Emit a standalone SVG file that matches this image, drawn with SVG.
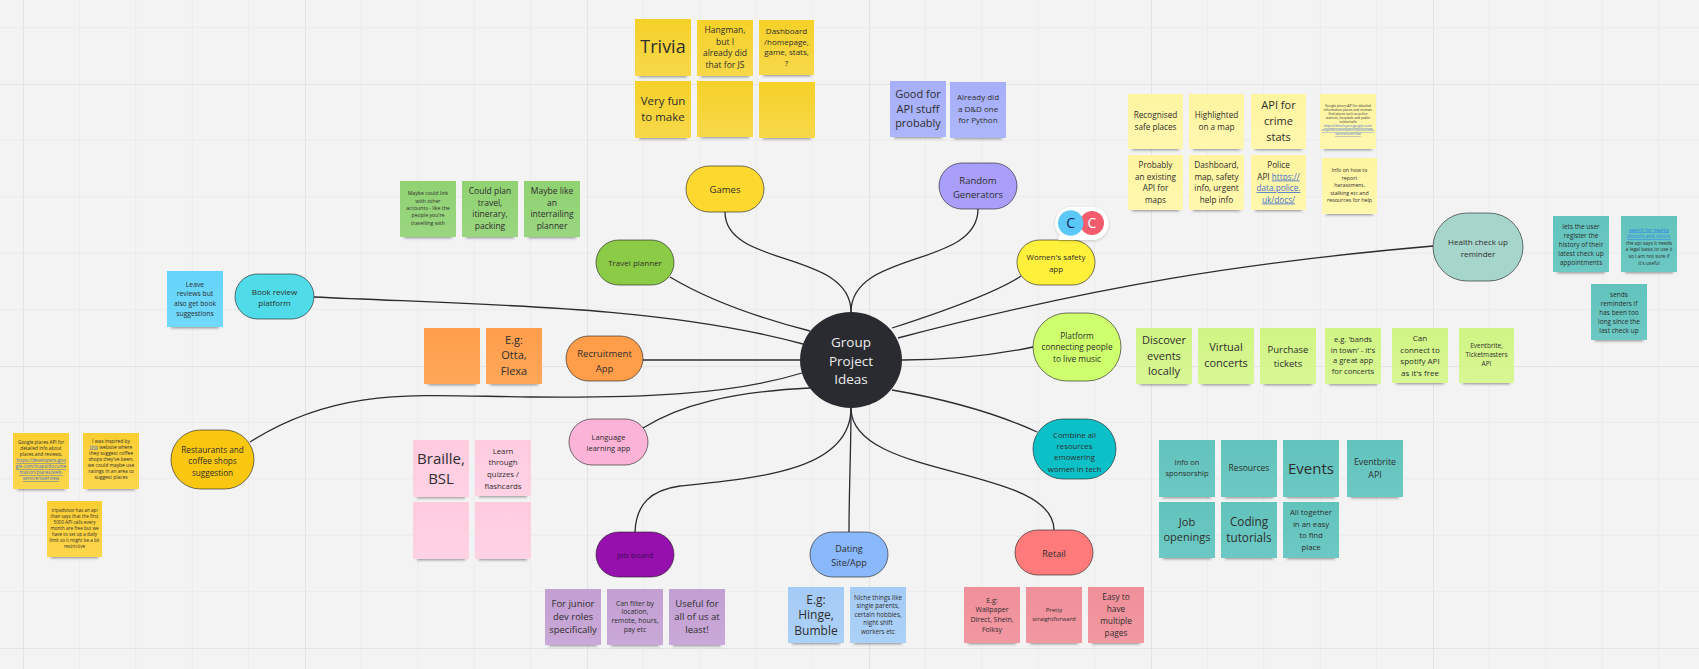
<svg xmlns="http://www.w3.org/2000/svg" width="1699" height="669" viewBox="0 0 1699 669">
<style>
text{font-family:"Open Sans","Noto Sans","Liberation Sans",sans-serif;text-anchor:middle;fill:#2e2e2e}
.conn path{fill:none;stroke:#2b2b30;stroke-width:1.3}
.n{stroke:#1c1c1c;stroke-opacity:.6;stroke-width:1}
.sh{fill:#222;opacity:.5;filter:url(#blur)}
.link{fill:#3f6fd0;text-decoration:underline}
.yel{fill:url(#gyel)}.per{fill:url(#gper)}.pal{fill:url(#gpal)}.tel{fill:url(#gtel)}.grn{fill:url(#ggrn)}.org{fill:url(#gorg)}.sky{fill:url(#gsky)}.amb{fill:url(#gamb)}.pnk{fill:url(#gpnk)}.lim{fill:url(#glim)}.vio{fill:url(#gvio)}.blu{fill:url(#gblu)}.red{fill:url(#gred)}
</style>
<defs>
<filter id="blur" x="-20%" y="-200%" width="140%" height="500%"><feGaussianBlur stdDeviation="1.500"/></filter>
<filter id="bub" x="-20%" y="-20%" width="140%" height="150%"><feDropShadow dx="0" dy="1" stdDeviation="1.500" flood-color="#000" flood-opacity=".18"/></filter>
<linearGradient id="gyel" x2="0" y2="1"><stop offset="0" stop-color="#f5d128"/><stop offset="1" stop-color="#f7d84a"/></linearGradient>
<linearGradient id="gper" x2="0" y2="1"><stop offset="0" stop-color="#a6aff8"/><stop offset="1" stop-color="#acb6fb"/></linearGradient>
<linearGradient id="gpal" x2="0" y2="1"><stop offset="0" stop-color="#fef5a0"/><stop offset="1" stop-color="#fff7ae"/></linearGradient>
<linearGradient id="gtel" x2="0" y2="1"><stop offset="0" stop-color="#62c3bd"/><stop offset="1" stop-color="#6cc8c2"/></linearGradient>
<linearGradient id="ggrn" x2="0" y2="1"><stop offset="0" stop-color="#90d272"/><stop offset="1" stop-color="#9ad680"/></linearGradient>
<linearGradient id="gorg" x2="0" y2="1"><stop offset="0" stop-color="#ff9e4b"/><stop offset="1" stop-color="#ffa658"/></linearGradient>
<linearGradient id="gsky" x2="0" y2="1"><stop offset="0" stop-color="#64d4fa"/><stop offset="1" stop-color="#70d9fb"/></linearGradient>
<linearGradient id="gamb" x2="0" y2="1"><stop offset="0" stop-color="#fbce32"/><stop offset="1" stop-color="#fcd64c"/></linearGradient>
<linearGradient id="gpnk" x2="0" y2="1"><stop offset="0" stop-color="#ffcbdf"/><stop offset="1" stop-color="#ffd2e4"/></linearGradient>
<linearGradient id="glim" x2="0" y2="1"><stop offset="0" stop-color="#d0f583"/><stop offset="1" stop-color="#d8f795"/></linearGradient>
<linearGradient id="gvio" x2="0" y2="1"><stop offset="0" stop-color="#c39fd2"/><stop offset="1" stop-color="#c9a9d8"/></linearGradient>
<linearGradient id="gblu" x2="0" y2="1"><stop offset="0" stop-color="#a4cbf5"/><stop offset="1" stop-color="#acd1f8"/></linearGradient>
<linearGradient id="gred" x2="0" y2="1"><stop offset="0" stop-color="#ef8f99"/><stop offset="1" stop-color="#f298a2"/></linearGradient>
<pattern id="grid" patternUnits="userSpaceOnUse" x="23" y="84" width="282" height="282">
<path d="M56.400 0V282M112.800 0V282M169.200 0V282M225.600 0V282M0 56.400H282M0 112.800H282M0 169.200H282M0 225.600H282" stroke="#ebebeb" stroke-width="1" fill="none"/>
<path d="M.5 0V282M0 .5H282" stroke="#e3e3e3" stroke-width="1.200" fill="none"/>
</pattern>
</defs>
<rect width="1699" height="669" fill="#f3f3f3"/>
<rect width="1699" height="669" fill="url(#grid)"/>

<g id="connectors" class="conn">
<path d="M725 212C725 268 851 250 851 312"/>
<path d="M978 209C978 268 851 250 851 312"/>
<path d="M670 277C700 295 740 313 810 331"/>
<path d="M314 297C480 305 660 305 803 344"/>
<path d="M643 360H800"/>
<path d="M250 442C340 385 420 396 530 397C640 398 730 395 802 373"/>
<path d="M643 428C680 405 730 392 810 388"/>
<path d="M1021 276C1000 290 960 306 892 328"/>
<path d="M1433 246C1250 262 1100 285 898 338"/>
<path d="M1033 347C990 356 950 360 902 360"/>
<path d="M892 390C950 400 1000 415 1037 432"/>
<path d="M1054 530C1054 465 851 480 851 408"/>
<path d="M849 532C849 490 851 450 851 408"/>
<path d="M635 532C636 505 650 490 680 486C760 478 851 470 851 408"/>
</g>

<g id="center"><ellipse cx="851" cy="360" rx="51" ry="48" fill="#2a2b30"/>
<text font-size="13.500" y="347" style="fill:#ececec"><tspan x="851">Group</tspan><tspan x="851" dy="18.500">Project</tspan><tspan x="851" dy="18.500">Ideas</tspan></text></g>

<g id="node-games"><rect class="n" x="686" y="166" width="78" height="46" rx="23" fill="#fdd82f"/><text font-size="9.500" x="725" y="192.500">Games</text></g>
<g id="node-random"><rect class="n" x="939" y="163" width="78" height="46" rx="23" fill="#a99ffa"/><text font-size="9.500" y="183.500"><tspan x="978">Random</tspan><tspan x="978" dy="14">Generators</tspan></text></g>
<g id="node-travel"><rect class="n" x="596" y="240" width="78" height="45" rx="22.500" fill="#8ccb45"/><text font-size="8" x="635" y="265.500">Travel planner</text></g>
<g id="node-recruitment"><rect class="n" x="566" y="336" width="77" height="45" rx="22.500" fill="#ff9d48"/><text font-size="9.500" y="356.500"><tspan x="604.500">Recruitment</tspan><tspan x="604.500" dy="15">App</tspan></text></g>
<g id="node-book"><rect class="n" x="235" y="274" width="79" height="45" rx="22.500" fill="#4fdce8"/><text font-size="8" y="295"><tspan x="274.500">Book review</tspan><tspan x="274.500" dy="11.300">platform</tspan></text></g>
<g id="node-women"><rect class="n" x="1017" y="240" width="78" height="45" rx="22.500" fill="#fff03c"/><text font-size="8" y="260"><tspan x="1056">Women's safety</tspan><tspan x="1056" dy="11.500">app</tspan></text></g>
<g id="node-health"><rect class="n" x="1433" y="213" width="90" height="68" rx="34" fill="#a6d5cc"/><text font-size="8" y="245"><tspan x="1478">Health check up</tspan><tspan x="1478" dy="11.500">reminder</tspan></text></g>
<g id="node-platform"><rect class="n" x="1033" y="313" width="88" height="68" rx="34" fill="#ceff6c"/><text font-size="8.300" y="339"><tspan x="1077">Platform</tspan><tspan x="1077" dy="11.300">connecting people</tspan><tspan x="1077" dy="11.300">to live music</tspan></text></g>
<g id="node-combine"><rect class="n" x="1033" y="419" width="83" height="60" rx="30" fill="#0cc0c8"/><text font-size="7.800" y="437.600"><tspan x="1074.500">Combine all</tspan><tspan x="1074.500" dy="11.300">resources</tspan><tspan x="1074.500" dy="11.300">emowering</tspan><tspan x="1074.500" dy="11.300">women in tech</tspan></text></g>
<g id="node-language"><rect class="n" x="569" y="419" width="79" height="46" rx="23" fill="#fbb4d8"/><text font-size="7.500" y="440"><tspan x="608.500">Language</tspan><tspan x="608.500" dy="11">learning app</tspan></text></g>
<g id="node-restaurants"><rect class="n" x="171" y="430" width="83" height="59" rx="29.500" fill="#fac710"/><text font-size="8.200" y="452.500"><tspan x="212.500">Restaurants and</tspan><tspan x="212.500" dy="11.500">coffee shops</tspan><tspan x="212.500" dy="11.500">suggestion</tspan></text></g>
<g id="node-job"><rect class="n" x="596" y="532" width="78" height="45" rx="22.500" fill="#9510ac"/><text font-size="8" x="635" y="558" style="fill:#3c0a55">Job board</text></g>
<g id="node-dating"><rect class="n" x="810" y="532" width="78" height="45" rx="22.500" fill="#8ab8fd"/><text font-size="9" y="552"><tspan x="849">Dating</tspan><tspan x="849" dy="14">Site/App</tspan></text></g>
<g id="node-retail"><rect class="n" x="1015" y="530" width="78" height="45" rx="22.500" fill="#ff7b7b"/><text font-size="9" x="1054" y="557">Retail</text></g>

<g id="avatars"><path d="M1070 207h22a16.500 16.500 0 0 1 0 33h-34l2-5a16.500 16.500 0 0 1 10-28z" fill="#fff" filter="url(#bub)"/><circle cx="1092" cy="223" r="12" fill="#f25c6c"/><circle cx="1070.700" cy="223" r="12.700" fill="#5bc8f7"/><text font-size="14" x="1070.700" y="228" style="fill:#0a1f5c">C</text><text font-size="14" x="1092" y="228" style="fill:#fff">C</text></g>

<g id="sticky-trivia"><rect class="sh" x="639" y="73" width="48" height="4"/><rect class="yel" x="635" y="19" width="56" height="57"/><text font-size="18" x="663" y="53">Trivia</text></g>
<g id="sticky-hangman"><rect class="sh" x="701" y="73" width="48" height="4"/><rect class="yel" x="697" y="20" width="56" height="56"/><text font-size="8.500" y="33"><tspan x="725">Hangman,</tspan><tspan x="725" dy="11.500">but I</tspan><tspan x="725" dy="11.500">already did</tspan><tspan x="725" dy="11.500">that for JS</tspan></text></g>
<g id="sticky-dashboard"><rect class="sh" x="763" y="72" width="48" height="4"/><rect class="yel" x="759" y="20" width="55" height="55"/><text font-size="8" y="34"><tspan x="786.500">Dashboard</tspan><tspan x="786.500" dy="10.700">/homepage,</tspan><tspan x="786.500" dy="10.700">game, stats,</tspan><tspan x="786.500" dy="10.700">?</tspan></text></g>
<g id="sticky-fun"><rect class="sh" x="639" y="135" width="48" height="4"/><rect class="yel" x="635" y="81" width="56" height="57"/><text font-size="11.500" y="105"><tspan x="663">Very fun</tspan><tspan x="663" dy="15.500">to make</tspan></text></g>
<g id="sticky-y5"><rect class="sh" x="701" y="134" width="48" height="4"/><rect class="yel" x="697" y="81" width="56" height="56"/></g>
<g id="sticky-y6"><rect class="sh" x="763" y="135" width="48" height="4"/><rect class="yel" x="759" y="82" width="56" height="56"/></g>

<g id="sticky-api"><rect class="sh" x="894" y="134" width="48" height="4"/><rect class="per" x="890" y="81" width="56" height="56"/><text font-size="11" y="98"><tspan x="918">Good for</tspan><tspan x="918" dy="14.500">API stuff</tspan><tspan x="918" dy="14.500">probably</tspan></text></g>
<g id="sticky-dnd"><rect class="sh" x="954" y="135" width="48" height="4"/><rect class="per" x="950" y="82" width="56" height="56"/><text font-size="8" y="100"><tspan x="978">Already did</tspan><tspan x="978" dy="11.500">a D&amp;D one</tspan><tspan x="978" dy="11.500">for Python</tspan></text></g>

<g id="sticky-safe"><rect class="sh" x="1132" y="146" width="47" height="4"/><rect class="pal" x="1128" y="94" width="55" height="55"/><text font-size="8.200" y="118"><tspan x="1155.500">Recognised</tspan><tspan x="1155.500" dy="11.500">safe places</tspan></text></g>
<g id="sticky-map"><rect class="sh" x="1193" y="146" width="47" height="4"/><rect class="pal" x="1189" y="94" width="55" height="55"/><text font-size="8.200" y="118"><tspan x="1216.500">Highlighted</tspan><tspan x="1216.500" dy="11.500">on a map</tspan></text></g>
<g id="sticky-crime"><rect class="sh" x="1255" y="146" width="47" height="4"/><rect class="pal" x="1251" y="94" width="55" height="55"/><text font-size="11" y="109"><tspan x="1278.500">API for</tspan><tspan x="1278.500" dy="15.800">crime</tspan><tspan x="1278.500" dy="15.800">stats</tspan></text></g>
<g id="sticky-gplaces2"><rect class="sh" x="1324" y="146" width="48" height="4"/><rect class="pal" x="1320" y="94" width="56" height="55"/><text font-size="3.300" y="106.500"><tspan x="1348">Google places API for detailed</tspan><tspan x="1348" dy="4.100">information places and reviews.</tspan><tspan x="1348" dy="4.100">find places such as police</tspan><tspan x="1348" dy="4.100">stations, hospitals and public</tspan><tspan x="1348" dy="4.100">toilets/safe</tspan><tspan x="1348" dy="4.100" class="link">https://developers.google.com/</tspan><tspan x="1348" dy="4.100" class="link">maps/documentation/places/web-</tspan><tspan x="1348" dy="4.100" class="link">service/overview</tspan></text></g>
<g id="sticky-existing"><rect class="sh" x="1132" y="207" width="47" height="4"/><rect class="pal" x="1128" y="155" width="55" height="55"/><text font-size="8.200" y="168"><tspan x="1155.500">Probably</tspan><tspan x="1155.500" dy="11.500">an existing</tspan><tspan x="1155.500" dy="11.500">API for</tspan><tspan x="1155.500" dy="11.500">maps</tspan></text></g>
<g id="sticky-dash2"><rect class="sh" x="1193" y="207" width="47" height="4"/><rect class="pal" x="1189" y="155" width="55" height="55"/><text font-size="8.200" y="168"><tspan x="1216.500">Dashboard,</tspan><tspan x="1216.500" dy="11.500">map, safety</tspan><tspan x="1216.500" dy="11.500">info, urgent</tspan><tspan x="1216.500" dy="11.500">help info</tspan></text></g>
<g id="sticky-police"><rect class="sh" x="1255" y="207" width="47" height="4"/><rect class="pal" x="1251" y="155" width="55" height="55"/><text font-size="8.200" y="168"><tspan x="1278.500">Police</tspan><tspan x="1278.500" dy="11.500">API <tspan class="link">https://</tspan></tspan><tspan x="1278.500" dy="11.500" class="link">data.police.</tspan><tspan x="1278.500" dy="11.500" class="link">uk/docs/</tspan></text></g>
<g id="sticky-harass"><rect class="sh" x="1326" y="211" width="47" height="4"/><rect class="pal" x="1322" y="158" width="55" height="56"/><text font-size="5.300" y="172"><tspan x="1349.500">Info on how to</tspan><tspan x="1349.500" dy="7.500">report</tspan><tspan x="1349.500" dy="7.500">harassment,</tspan><tspan x="1349.500" dy="7.500">stalking etc and</tspan><tspan x="1349.500" dy="7.500">resources for help</tspan></text></g>

<g id="sticky-history"><rect class="sh" x="1557" y="269" width="48" height="4"/><rect class="tel" x="1553" y="216" width="56" height="56"/><text font-size="6.500" y="228.500"><tspan x="1581">lets the user</tspan><tspan x="1581" dy="9">register the</tspan><tspan x="1581" dy="9">history of their</tspan><tspan x="1581" dy="9">latest check up</tspan><tspan x="1581" dy="9">appointments</tspan></text></g>
<g id="sticky-search"><rect class="sh" x="1625" y="269" width="48" height="4"/><rect class="tel" x="1621" y="216" width="56" height="56"/><text font-size="4.900" y="231.500"><tspan x="1649" class="link" style="fill:#2f7fe8">search for nearby</tspan><tspan x="1649" dy="6.600" class="link" style="fill:#2f7fe8">doctors and clinics.</tspan><tspan x="1649" dy="6.600">the api says it needs</tspan><tspan x="1649" dy="6.600">a legal basis to use it</tspan><tspan x="1649" dy="6.600">so I am not sure if</tspan><tspan x="1649" dy="6.600">it's useful</tspan></text></g>
<g id="sticky-remind"><rect class="sh" x="1595" y="337" width="48" height="4"/><rect class="tel" x="1591" y="284" width="56" height="56"/><text font-size="6.500" y="296.500"><tspan x="1619">sends</tspan><tspan x="1619" dy="9">reminders if</tspan><tspan x="1619" dy="9">has been too</tspan><tspan x="1619" dy="9">long since the</tspan><tspan x="1619" dy="9">last check up</tspan></text></g>

<g id="sticky-link"><rect class="sh" x="404" y="234" width="48" height="4"/><rect class="grn" x="400" y="181" width="56" height="56"/><text font-size="5.200" y="195.200"><tspan x="428">Maybe could link</tspan><tspan x="428" dy="7.400">with other</tspan><tspan x="428" dy="7.400">accounts - like the</tspan><tspan x="428" dy="7.400">people you're</tspan><tspan x="428" dy="7.400">travelling with</tspan></text></g>
<g id="sticky-plan"><rect class="sh" x="466" y="234" width="48" height="4"/><rect class="grn" x="462" y="181" width="56" height="56"/><text font-size="8.500" y="194"><tspan x="490">Could plan</tspan><tspan x="490" dy="11.600">travel,</tspan><tspan x="490" dy="11.600">itinerary,</tspan><tspan x="490" dy="11.600">packing</tspan></text></g>
<g id="sticky-inter"><rect class="sh" x="528" y="234" width="48" height="4"/><rect class="grn" x="524" y="181" width="56" height="56"/><text font-size="8.500" y="194"><tspan x="552">Maybe like</tspan><tspan x="552" dy="11.600">an</tspan><tspan x="552" dy="11.600">interrailing</tspan><tspan x="552" dy="11.600">planner</tspan></text></g>

<g id="sticky-leave"><rect class="sh" x="171" y="324" width="48" height="4"/><rect class="sky" x="167" y="271" width="56" height="56"/><text font-size="6.800" y="286.500"><tspan x="195">Leave</tspan><tspan x="195" dy="9.800">reviews but</tspan><tspan x="195" dy="9.800">also get book</tspan><tspan x="195" dy="9.800">suggestions</tspan></text></g>

<g id="sticky-o1"><rect class="sh" x="428" y="381" width="48" height="4"/><rect class="org" x="424" y="328" width="56" height="56"/></g>
<g id="sticky-otta"><rect class="sh" x="490" y="381" width="48" height="4"/><rect class="org" x="486" y="328" width="56" height="56"/><text font-size="11" y="344"><tspan x="514">E.g:</tspan><tspan x="514" dy="15.300">Otta,</tspan><tspan x="514" dy="15.300">Flexa</tspan></text></g>

<g id="sticky-gplaces"><rect class="sh" x="17" y="486" width="48" height="4"/><rect class="amb" x="13" y="433" width="56" height="56"/><text font-size="4.700" y="444"><tspan x="41">Google places API for</tspan><tspan x="41" dy="6">detailed info about</tspan><tspan x="41" dy="6">places and reviews,</tspan><tspan x="41" dy="6" class="link">https://developers.goo</tspan><tspan x="41" dy="6" class="link">gle.com/maps/docume</tspan><tspan x="41" dy="6" class="link">ntation/places/web-</tspan><tspan x="41" dy="6" class="link">service/overview</tspan></text></g>
<g id="sticky-inspired"><rect class="sh" x="87" y="486" width="48" height="4"/><rect class="amb" x="83" y="433" width="56" height="56"/><text font-size="4.900" y="442.500"><tspan x="111">I was inspired by</tspan><tspan x="111" dy="6"><tspan class="link">this</tspan> website where</tspan><tspan x="111" dy="6">they suggest coffee</tspan><tspan x="111" dy="6">shops they've been,</tspan><tspan x="111" dy="6">we could maybe use</tspan><tspan x="111" dy="6">ratings in an area to</tspan><tspan x="111" dy="6">suggest places</tspan></text></g>
<g id="sticky-trip"><rect class="sh" x="51" y="554" width="47" height="4"/><rect class="amb" x="47" y="501" width="55" height="56"/><text font-size="4.600" y="512"><tspan x="74.500">tripadvisor has an api</tspan><tspan x="74.500" dy="6">than says that the first</tspan><tspan x="74.500" dy="6">5000 API calls every</tspan><tspan x="74.500" dy="6">month are free but we</tspan><tspan x="74.500" dy="6">have to set up a daily</tspan><tspan x="74.500" dy="6">limit so it might be a bit</tspan><tspan x="74.500" dy="6">restrictive</tspan></text></g>

<g id="sticky-braille"><rect class="sh" x="417" y="494" width="48" height="4"/><rect class="pnk" x="413" y="440" width="56" height="57"/><text font-size="15" y="464"><tspan x="441">Braille,</tspan><tspan x="441" dy="20">BSL</tspan></text></g>
<g id="sticky-learn"><rect class="sh" x="479" y="493" width="48" height="4"/><rect class="pnk" x="475" y="440" width="56" height="56"/><text font-size="7.800" y="453.500"><tspan x="503">Learn</tspan><tspan x="503" dy="11.700">through</tspan><tspan x="503" dy="11.700">quizzes /</tspan><tspan x="503" dy="11.700">flashcards</tspan></text></g>
<g id="sticky-p3"><rect class="sh" x="417" y="556" width="48" height="4"/><rect class="pnk" x="413" y="502" width="56" height="57"/></g>
<g id="sticky-p4"><rect class="sh" x="479" y="556" width="48" height="4"/><rect class="pnk" x="475" y="502" width="56" height="57"/></g>

<g id="sticky-junior"><rect class="sh" x="549" y="642" width="48" height="4"/><rect class="vio" x="545" y="589" width="56" height="56"/><text font-size="9.500" y="607"><tspan x="573">For junior</tspan><tspan x="573" dy="12.800">dev roles</tspan><tspan x="573" dy="12.800">specifically</tspan></text></g>
<g id="sticky-filter"><rect class="sh" x="611" y="642" width="48" height="4"/><rect class="vio" x="607" y="589" width="56" height="56"/><text font-size="6.800" y="605.500"><tspan x="635">Can filter by</tspan><tspan x="635" dy="8.900">location,</tspan><tspan x="635" dy="8.900">remote, hours,</tspan><tspan x="635" dy="8.900">pay etc</tspan></text></g>
<g id="sticky-useful"><rect class="sh" x="673" y="642" width="48" height="4"/><rect class="vio" x="669" y="589" width="56" height="56"/><text font-size="9.500" y="607"><tspan x="697">Useful for</tspan><tspan x="697" dy="12.800">all of us at</tspan><tspan x="697" dy="12.800">least!</tspan></text></g>

<g id="sticky-hinge"><rect class="sh" x="792" y="640" width="48" height="4"/><rect class="blu" x="788" y="587" width="56" height="56"/><text font-size="12" y="603.500"><tspan x="816">E.g:</tspan><tspan x="816" dy="15.500">Hinge,</tspan><tspan x="816" dy="15.500">Bumble</tspan></text></g>
<g id="sticky-niche"><rect class="sh" x="854" y="640" width="48" height="4"/><rect class="blu" x="850" y="587" width="56" height="56"/><text font-size="6.300" y="599.500"><tspan x="878">Niche things like</tspan><tspan x="878" dy="8.600">single parents,</tspan><tspan x="878" dy="8.600">certain hobbies,</tspan><tspan x="878" dy="8.600">night shift</tspan><tspan x="878" dy="8.600">workers etc</tspan></text></g>

<g id="sticky-wall"><rect class="sh" x="968" y="640" width="48" height="4"/><rect class="red" x="964" y="587" width="56" height="56"/><text font-size="7" y="602.500"><tspan x="992">E.g:</tspan><tspan x="992" dy="9.800">Wallpaper</tspan><tspan x="992" dy="9.800">Direct, Shein,</tspan><tspan x="992" dy="9.800">Folksy</tspan></text></g>
<g id="sticky-pretty"><rect class="sh" x="1030" y="640" width="48" height="4"/><rect class="red" x="1026" y="587" width="56" height="56"/><text font-size="6" y="612"><tspan x="1054">Pretty</tspan><tspan x="1054" dy="8.700">straightforward</tspan></text></g>
<g id="sticky-pages"><rect class="sh" x="1092" y="640" width="48" height="4"/><rect class="red" x="1088" y="587" width="56" height="56"/><text font-size="8.300" y="600"><tspan x="1116">Easy to</tspan><tspan x="1116" dy="12">have</tspan><tspan x="1116" dy="12">multiple</tspan><tspan x="1116" dy="12">pages</tspan></text></g>

<g id="sticky-local"><rect class="sh" x="1140" y="381" width="48" height="4"/><rect class="lim" x="1136" y="328" width="56" height="56"/><text font-size="11" y="344"><tspan x="1164">Discover</tspan><tspan x="1164" dy="15.500">events</tspan><tspan x="1164" dy="15.500">locally</tspan></text></g>
<g id="sticky-virtual"><rect class="sh" x="1202" y="381" width="48" height="4"/><rect class="lim" x="1198" y="328" width="56" height="56"/><text font-size="11" y="351"><tspan x="1226">Virtual</tspan><tspan x="1226" dy="16">concerts</tspan></text></g>
<g id="sticky-purchase"><rect class="sh" x="1264" y="381" width="48" height="4"/><rect class="lim" x="1260" y="328" width="56" height="56"/><text font-size="9.500" y="352.500"><tspan x="1288">Purchase</tspan><tspan x="1288" dy="14">tickets</tspan></text></g>
<g id="sticky-bands"><rect class="sh" x="1329" y="381" width="48" height="4"/><rect class="lim" x="1325" y="328" width="56" height="56"/><text font-size="7.600" y="342"><tspan x="1353">e.g. 'bands</tspan><tspan x="1353" dy="10.700">in town' - it's</tspan><tspan x="1353" dy="10.700">a great app</tspan><tspan x="1353" dy="10.700">for concerts</tspan></text></g>
<g id="sticky-spotify"><rect class="sh" x="1396" y="380" width="48" height="4"/><rect class="lim" x="1392" y="328" width="56" height="55"/><text font-size="8" y="341"><tspan x="1420">Can</tspan><tspan x="1420" dy="11.600">connect to</tspan><tspan x="1420" dy="11.600">spotify API</tspan><tspan x="1420" dy="11.600">as it's free</tspan></text></g>
<g id="sticky-ticket"><rect class="sh" x="1463" y="380" width="47" height="4"/><rect class="lim" x="1459" y="328" width="55" height="55"/><text font-size="6.500" y="348"><tspan x="1486.500">Eventbrite,</tspan><tspan x="1486.500" dy="9">Ticketmasters</tspan><tspan x="1486.500" dy="9">API</tspan></text></g>

<g id="sticky-sponsor"><rect class="sh" x="1163" y="494" width="48" height="4"/><rect class="tel" x="1159" y="440" width="56" height="57"/><text font-size="7.500" y="464.500"><tspan x="1187">Info on</tspan><tspan x="1187" dy="11">sponsorship</tspan></text></g>
<g id="sticky-resources"><rect class="sh" x="1225" y="494" width="48" height="4"/><rect class="tel" x="1221" y="440" width="56" height="57"/><text font-size="8.500" x="1249" y="471">Resources</text></g>
<g id="sticky-events"><rect class="sh" x="1287" y="494" width="48" height="4"/><rect class="tel" x="1283" y="440" width="56" height="57"/><text font-size="15" x="1311" y="474">Events</text></g>
<g id="sticky-ebapi"><rect class="sh" x="1351" y="494" width="48" height="4"/><rect class="tel" x="1347" y="440" width="56" height="57"/><text font-size="8.800" y="465"><tspan x="1375">Eventbrite</tspan><tspan x="1375" dy="12.700">API</tspan></text></g>
<g id="sticky-jobs"><rect class="sh" x="1163" y="555" width="48" height="4"/><rect class="tel" x="1159" y="502" width="56" height="56"/><text font-size="11" y="526"><tspan x="1187">Job</tspan><tspan x="1187" dy="15.300">openings</tspan></text></g>
<g id="sticky-coding"><rect class="sh" x="1225" y="555" width="48" height="4"/><rect class="tel" x="1221" y="502" width="56" height="56"/><text font-size="11.700" y="526"><tspan x="1249">Coding</tspan><tspan x="1249" dy="15.500">tutorials</tspan></text></g>
<g id="sticky-together"><rect class="sh" x="1287" y="555" width="48" height="4"/><rect class="tel" x="1283" y="502" width="56" height="56"/><text font-size="7.800" y="515"><tspan x="1311">All together</tspan><tspan x="1311" dy="11.700">in an easy</tspan><tspan x="1311" dy="11.700">to find</tspan><tspan x="1311" dy="11.700">place</tspan></text></g>
</svg>
